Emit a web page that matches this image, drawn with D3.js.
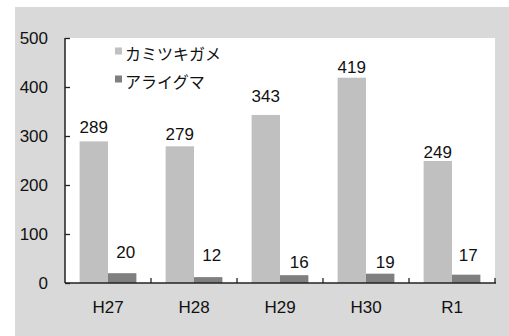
<!DOCTYPE html>
<html>
<head>
<meta charset="utf-8">
<script src="https://cdn.jsdelivr.net/npm/d3@7"></script>
<style>
  html, body { margin: 0; padding: 0; background: #ffffff; }
  svg { display: block; }
  text { font-family: "Liberation Sans", Arial, "Noto Sans CJK JP", sans-serif; fill: #111; }
</style>
</head>
<body>
<svg id="chart" width="509" height="336"></svg>
<script>
// Annual captures of invasive species
const years = ["H27", "H28", "H29", "H30", "R1"];
const snappingTurtle = [289, 279, 343, 419, 249];   // カミツキガメ
const raccoon = [20, 12, 16, 19, 17];               // アライグマ
const seriesNames = ["カミツキガメ", "アライグマ"];
const yTicks = [0, 100, 200, 300, 400, 500];

// styling / hand-tuned label placement (px above bar top, px sideways)
const seriesColors = ["#c0c0c0", "#7f7f7f"];
const labelLift = [[8, 6, 13, 4.5, 3], [15, 16, 7, 6, 14]];
const labelShift = [[0, 0, 0, 0, 0], [3.5, 3.5, 5, 5, 2]];

const svg = d3.select("#chart");

// chart area background
svg.append("rect")
  .attr("x", 15).attr("y", 7)
  .attr("width", 494).attr("height", 329)
  .attr("fill", "#d9d9d9");

const plot = { left: 65, right: 495, top: 38, bottom: 283 };

// plot area
svg.append("rect")
  .attr("x", plot.left).attr("y", plot.top)
  .attr("width", plot.right - plot.left).attr("height", plot.bottom - plot.top)
  .attr("fill", "#ffffff");

const x = d3.scaleBand()
  .domain(years)
  .range([plot.left, plot.right])
  .paddingInner(0.34)
  .paddingOuter(0.17);

const xSub = d3.scaleBand()
  .domain(seriesNames)
  .range([0, x.bandwidth()]);

const y = d3.scaleLinear()
  .domain([0, 500])
  .range([plot.bottom, plot.top]);

const rows = years.map((yr, i) => ({
  year: yr,
  values: [
    { s: 0, i, name: seriesNames[0], value: snappingTurtle[i], color: seriesColors[0] },
    { s: 1, i, name: seriesNames[1], value: raccoon[i], color: seriesColors[1] }
  ]
}));

const groups = svg.append("g").selectAll("g")
  .data(rows)
  .join("g")
  .attr("transform", d => `translate(${x(d.year)},0)`);

groups.selectAll("rect")
  .data(d => d.values)
  .join("rect")
  .attr("x", d => xSub(d.name))
  .attr("y", d => y(d.value))
  .attr("width", xSub.bandwidth())
  .attr("height", d => y(0) - y(d.value))
  .attr("fill", d => d.color);

groups.selectAll("text.val")
  .data(d => d.values)
  .join("text")
  .attr("class", "val")
  .attr("x", d => xSub(d.name) + xSub.bandwidth() / 2 + labelShift[d.s][d.i])
  .attr("y", d => y(d.value) - labelLift[d.s][d.i])
  .attr("text-anchor", "middle")
  .attr("font-size", 17)
  .text(d => d.value);

// y axis (ticks inside the plot)
const yAxis = d3.axisRight(y)
  .tickValues(yTicks)
  .tickSize(5)
  .tickFormat("");
const yg = svg.append("g")
  .attr("transform", `translate(${plot.left},0)`)
  .call(yAxis);
yg.select(".domain").remove();
yg.selectAll(".tick line").attr("stroke", "#222").attr("stroke-width", 1.3);
svg.append("line")
  .attr("x1", plot.left).attr("x2", plot.left)
  .attr("y1", plot.top).attr("y2", plot.bottom)
  .attr("stroke", "#222").attr("stroke-width", 1.5);

svg.append("g").selectAll("text")
  .data(yTicks)
  .join("text")
  .attr("x", 48)
  .attr("y", d => y(d))
  .attr("dy", "0.36em")
  .attr("text-anchor", "end")
  .attr("font-size", 17)
  .text(d => d);

// x axis: tick marks at category boundaries, pointing up
const boundaries = d3.range(1, years.length + 1).map(i => plot.left + i * x.step());
svg.append("line")
  .attr("x1", plot.left).attr("x2", plot.right + 1)
  .attr("y1", plot.bottom).attr("y2", plot.bottom)
  .attr("stroke", "#222").attr("stroke-width", 1.5);
svg.append("g").selectAll("line")
  .data(boundaries)
  .join("line")
  .attr("x1", d => d).attr("x2", d => d)
  .attr("y1", plot.bottom).attr("y2", plot.bottom - 5)
  .attr("stroke", "#222").attr("stroke-width", 1.3);

svg.append("g").selectAll("text")
  .data(years)
  .join("text")
  .attr("x", d => x(d) + x.bandwidth() / 2)
  .attr("y", 313)
  .attr("text-anchor", "middle")
  .attr("font-size", 17)
  .text(d => d);

// legend
const legend = svg.append("g").selectAll("g")
  .data(seriesNames)
  .join("g")
  .attr("transform", (d, i) => `translate(115,${51 + i * 28})`);
legend.append("rect")
  .attr("x", 0).attr("y", -3.5)
  .attr("width", 7).attr("height", 7)
  .attr("fill", (d, i) => seriesColors[i]);
legend.append("text")
  .attr("x", 10)
  .attr("y", 3)
  .attr("dy", "0.38em")
  .attr("font-size", 16)
  .text(d => d);
</script>
</body>
</html>
